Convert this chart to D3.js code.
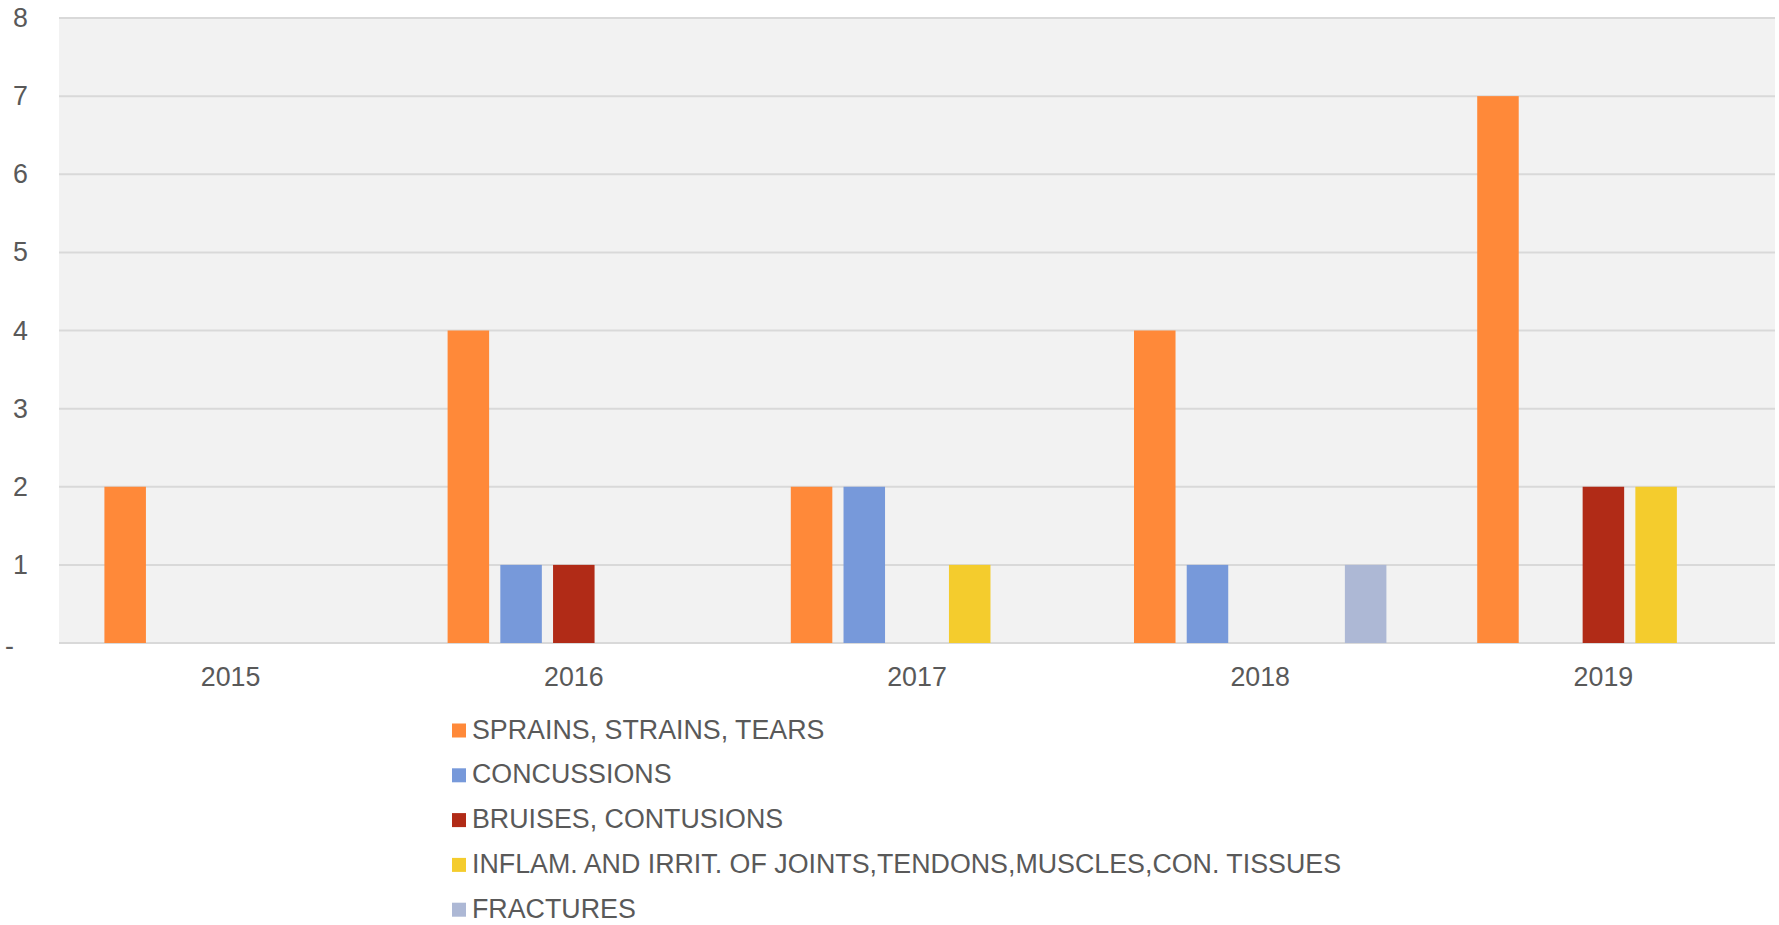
<!DOCTYPE html>
<html>
<head>
<meta charset="utf-8">
<script src="https://cdn.jsdelivr.net/npm/d3@7"></script>
<style>
  body { margin: 0; background: #fff; }
  svg { display: block; font-family: "Liberation Sans", Arial, sans-serif; }
</style>
</head>
<body>
<div id="chart"></div>
<script>
const years = ["2015", "2016", "2017", "2018", "2019"];
const seriesNames = [
  "SPRAINS, STRAINS, TEARS",
  "CONCUSSIONS",
  "BRUISES, CONTUSIONS",
  "INFLAM. AND IRRIT. OF JOINTS,TENDONS,MUSCLES,CON. TISSUES",
  "FRACTURES"
];
const sprains = [2, 4, 2, 4, 7];
const concussions = [0, 1, 2, 1, 0];
const bruises = [0, 1, 0, 0, 2];
const inflam = [0, 0, 1, 0, 2];
const fractures = [0, 0, 0, 1, 0];
const yTicks = [0, 1, 2, 3, 4, 5, 6, 7, 8];

const seriesValues = [sprains, concussions, bruises, inflam, fractures];
const colors = ["#FF8939", "#7799DA", "#B12B17", "#F4CC2D", "#ADB8D5"];

const width = 1779, height = 925;
const margin = { top: 18, right: 4, bottom: 282, left: 59 };
const textColor = "#595959";
const fontSize = "26.8px";

const svg = d3.select("#chart").append("svg")
  .attr("width", width)
  .attr("height", height);

const x0 = d3.scaleBand()
  .domain(years)
  .range([margin.left, width - margin.right])
  .padding(0);

const outerPad = x0.bandwidth() * 0.1323;
const x1 = d3.scaleBand()
  .domain(d3.range(seriesNames.length))
  .range([outerPad, x0.bandwidth() - outerPad])
  .paddingInner(0.2125)
  .paddingOuter(0);

const y = d3.scaleLinear()
  .domain([0, 8])
  .range([height - margin.bottom, margin.top]);

// plot background
svg.append("rect")
  .attr("x", margin.left)
  .attr("y", margin.top)
  .attr("width", width - margin.right - margin.left)
  .attr("height", y(0) - margin.top)
  .attr("fill", "#F2F2F2");

// gridlines
svg.append("g")
  .selectAll("line")
  .data(yTicks)
  .join("line")
  .attr("x1", margin.left)
  .attr("x2", width - margin.right)
  .attr("y1", d => y(d))
  .attr("y2", d => y(d))
  .attr("stroke", "#D9D9D9")
  .attr("stroke-width", 2);

// y axis labels
const yAxis = svg.append("g")
  .attr("transform", `translate(${margin.left - 31}, 0)`)
  .call(d3.axisLeft(y).tickValues(yTicks).tickSize(0).tickPadding(0)
    .tickFormat(d => d === 0 ? "-" : d));
yAxis.select(".domain").remove();
yAxis.selectAll("text")
  .attr("fill", textColor)
  .style("font-size", fontSize)
  .attr("font-family", null);
yAxis.selectAll(".tick").filter(d => d === 0).select("text")
  .attr("text-anchor", "start")
  .attr("x", -23)
  .attr("y", 3);

// bars
const groups = svg.append("g")
  .selectAll("g")
  .data(years)
  .join("g")
  .attr("transform", d => `translate(${x0(d)}, 0)`);

groups.selectAll("rect")
  .data((d, i) => seriesValues.map((vals, s) => ({ s, v: vals[i] })).filter(e => e.v > 0))
  .join("rect")
  .attr("x", d => x1(d.s))
  .attr("y", d => y(d.v))
  .attr("width", x1.bandwidth())
  .attr("height", d => y(0) - y(d.v))
  .attr("fill", d => colors[d.s]);

// x axis labels
const xAxis = svg.append("g")
  .attr("transform", `translate(0, ${y(0) + 24})`)
  .call(d3.axisBottom(x0).tickSize(0).tickPadding(0));
xAxis.select(".domain").remove();
xAxis.selectAll("text")
  .attr("fill", textColor)
  .style("font-size", fontSize)
  .attr("font-family", null);

// legend
const legend = svg.append("g")
  .attr("transform", "translate(452, 738.5)");

const items = legend.selectAll("g")
  .data(seriesNames)
  .join("g")
  .attr("transform", (d, i) => `translate(0, ${i * 44.8})`);

items.append("rect")
  .attr("x", 0)
  .attr("y", -15)
  .attr("width", 14)
  .attr("height", 14)
  .attr("fill", (d, i) => colors[i]);

items.append("text")
  .attr("x", 20)
  .attr("y", 0)
  .attr("fill", textColor)
  .style("font-size", fontSize)
  .text(d => d);
</script>
</body>
</html>
